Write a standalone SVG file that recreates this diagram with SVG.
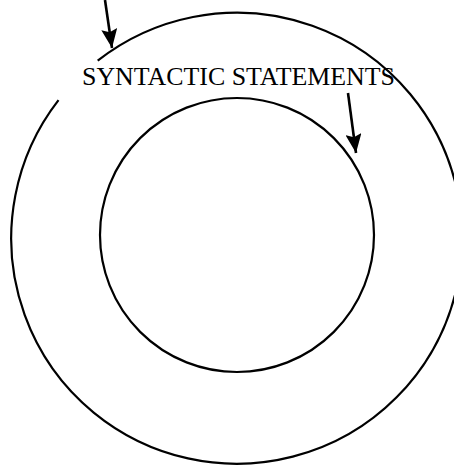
<svg xmlns="http://www.w3.org/2000/svg" width="454" height="466" viewBox="0 0 454 466">
  <defs>
    <style>
      .ring { fill: none; stroke: #000; stroke-width: 2.2; }
      .conn { stroke: #000; stroke-width: 2.6; fill: none; }
      .lbl { font-family: "Liberation Serif", "Times New Roman", serif; font-size: 25px; fill: #000; }
    </style>
    <marker id="ah" markerUnits="userSpaceOnUse" markerWidth="20" markerHeight="16" refX="19" refY="8" orient="auto">
      <path d="M0,0 L19,8 L0,16 L3,8 z" fill="#000"/>
    </marker>
  </defs>
  <rect width="454" height="466" fill="#fff"/>
  <g id="outer-ring">
    <path class="ring" d="M 58.5 100.1 A 225.5 225.5 0 1 0 97.7 60.7"/>
  </g>
  <g id="inner-ring">
    <circle class="ring" cx="237" cy="235" r="137"/>
  </g>
  <g id="label">
    <text class="lbl" x="82" y="85" textLength="313" lengthAdjust="spacingAndGlyphs">SYNTACTIC STATEMENTS</text>
  </g>
  <g id="connectors">
    <line class="conn" x1="105" y1="0" x2="112" y2="48" marker-end="url(#ah)"/>
    <line class="conn" x1="348" y1="93" x2="356" y2="153" marker-end="url(#ah)"/>
  </g>
</svg>
